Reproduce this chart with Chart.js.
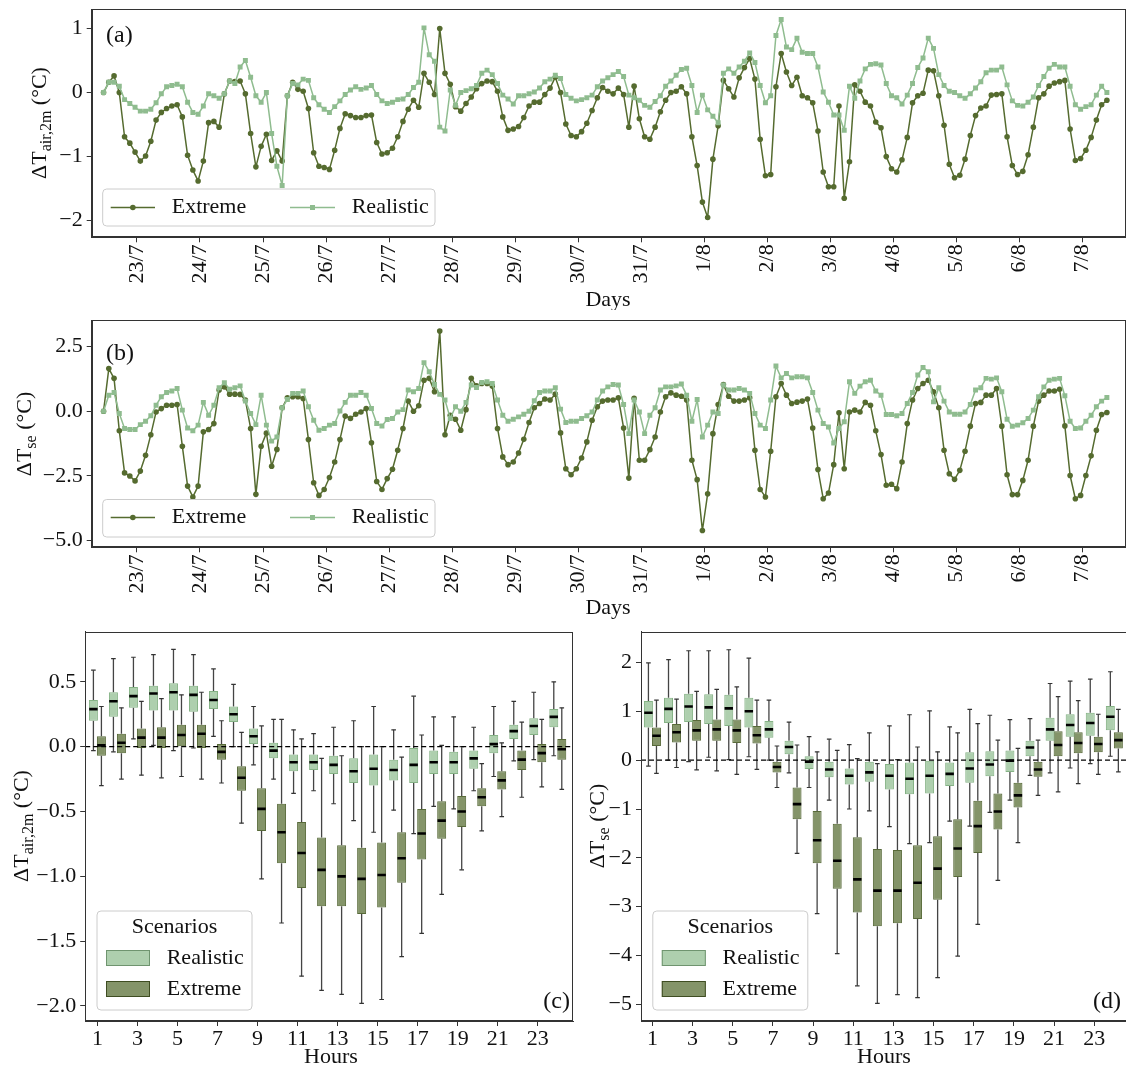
<!DOCTYPE html>
<html lang="en">
<head>
<meta charset="UTF-8">
<title>Temperature differences</title>
<script src="https://cdn.jsdelivr.net/npm/chart.js@4.4.1/dist/chart.umd.min.js"></script>
<style>
  body { margin: 0; background: #fff; width: 1126px; height: 1070px; overflow: hidden; position: relative; }
  canvas { position: absolute; }
</style>
</head>
<body>
<canvas id="pa" width="1130" height="310" style="left:0;top:0"></canvas>
<canvas id="pb" width="1130" height="310" style="left:0;top:310px"></canvas>
<canvas id="pc" width="580" height="450" style="left:0;top:620px"></canvas>
<canvas id="pd" width="560" height="450" style="left:580px;top:620px"></canvas>
<script>
// ---- time axis (days since 22/7 00:00), one sample every 2 hours ----
const START_DAY = 0.47;
const STEP_DAY = 1 / 12;
const dayTicks = [1, 2, 3, 4, 5, 6, 7, 8, 9, 10, 11, 12, 13, 14, 15, 16];
const dayLabels = ['23/7', '24/7', '25/7', '26/7', '27/7', '28/7', '29/7', '30/7', '31/7',
                   '1/8', '2/8', '3/8', '4/8', '5/8', '6/8', '7/8'];

// (a) air temperature difference at 2 m
const airExtreme = [
  0.0, 0.16, 0.26, 0.0, -0.69, -0.79, -0.93, -1.07, -0.99, -0.76, -0.43, -0.31,
  -0.25, -0.21, -0.19, -0.38, -0.98, -1.21, -1.38, -1.07, -0.47, -0.45, -0.54, -0.02,
  0.18, 0.17, 0.18, -0.02, -0.64, -1.16, -0.84, -0.65, -1.06, -0.91, -1.07, -0.05,
  0.16, 0.05, 0.02, -0.25, -0.94, -1.15, -1.17, -1.20, -0.90, -0.56, -0.33, -0.36,
  -0.39, -0.39, -0.36, -0.35, -0.78, -0.96, -0.94, -0.87, -0.69, -0.45, -0.26, -0.12,
  -0.23, 0.30, 0.16, -0.03, 1.0, 0.30, 0.13, -0.22, -0.29, -0.17, -0.07, 0.06,
  0.14, 0.18, 0.17, 0.02, -0.38, -0.59, -0.57, -0.53, -0.39, -0.21, -0.15, -0.15,
  -0.03, 0.07, 0.24, 0.0, -0.49, -0.67, -0.69, -0.61, -0.48, -0.28, -0.08, 0.08,
  0.02, -0.02, 0.07, -0.03, -0.54, 0.10, -0.41, -0.69, -0.73, -0.54, -0.30, -0.12,
  0.0, 0.02, 0.09, -0.02, -0.69, -1.14, -1.71, -1.95, -1.04, -0.52, 0.19, 0.06,
  -0.07, 0.23, 0.39, 0.53, 0.21, -0.73, -1.30, -1.28, 0.09, 0.61, 0.32, 0.11,
  0.24, -0.05, -0.08, -0.16, -0.60, -1.24, -1.47, -1.47, -0.21, -1.65, -1.08, 0.12,
  0.02, -0.15, -0.21, -0.46, -0.55, -1.00, -1.19, -1.24, -1.05, -0.70, -0.16, -0.05,
  -0.01, 0.35, 0.34, -0.05, -0.51, -1.12, -1.33, -1.29, -1.04, -0.67, -0.36, -0.24,
  -0.21, -0.04, -0.03, -0.02, -0.69, -1.14, -1.28, -1.23, -0.97, -0.54, -0.08, -0.02,
  0.10, 0.15, 0.17, 0.19, -0.57, -1.06, -1.03, -0.90, -0.70, -0.43, -0.19, -0.12
];
const airRealistic = [
  0.0, 0.16, 0.16, 0.10, -0.11, -0.17, -0.23, -0.29, -0.29, -0.26, -0.16, -0.02,
  0.09, 0.11, 0.13, 0.09, -0.15, -0.31, -0.34, -0.21, -0.02, -0.05, -0.09, -0.02,
  0.18, 0.14, 0.40, 0.50, 0.24, -0.05, -0.15, 0.0, -0.64, -1.15, -1.45, -0.05,
  0.14, 0.12, 0.21, 0.19, -0.08, -0.19, -0.26, -0.31, -0.22, -0.13, -0.03, 0.04,
  0.09, 0.05, 0.07, 0.11, -0.03, -0.13, -0.17, -0.15, -0.11, -0.10, -0.03, 0.08,
  0.16, 1.01, 0.59, 0.49, -0.54, -0.60, 0.04, -0.20, 0.0, 0.03, 0.06, 0.11,
  0.30, 0.35, 0.28, 0.14, -0.04, -0.10, -0.18, -0.05, -0.05, -0.02, 0.01, 0.07,
  0.17, 0.21, 0.27, 0.22, -0.03, -0.09, -0.13, -0.11, -0.08, -0.04, 0.09, 0.18,
  0.23, 0.28, 0.33, 0.25, -0.04, -0.08, -0.12, -0.20, -0.23, -0.14, -0.05, 0.10,
  0.18, 0.27, 0.36, 0.38, 0.11, -0.31, -0.04, -0.27, -0.37, -0.47, 0.30, 0.37,
  0.30, 0.40, 0.49, 0.62, 0.47, 0.11, -0.16, -0.05, 0.89, 1.14, 0.71, 0.67,
  0.85, 0.63, 0.61, 0.61, 0.40, 0.01, -0.15, -0.35, -0.35, -0.59, 0.10, -0.09,
  0.18, 0.37, 0.44, 0.45, 0.43, 0.14, -0.05, -0.08, -0.18, -0.04, 0.14, 0.39,
  0.54, 0.85, 0.69, 0.28, 0.11, 0.02, 0.0, -0.05, -0.09, -0.02, 0.07, 0.17,
  0.31, 0.35, 0.35, 0.40, 0.12, -0.13, -0.20, -0.21, -0.15, -0.07, 0.11, 0.25,
  0.38, 0.44, 0.40, 0.40, 0.10, -0.19, -0.26, -0.22, -0.19, -0.04, 0.10, 0.0
];

// (b) surface temperature difference
const surfExtreme = [
  0.0, 1.65, 1.27, -0.76, -2.39, -2.51, -2.70, -2.32, -1.71, -0.91, -0.03, 0.10,
  0.23, 0.23, 0.26, -1.36, -2.90, -3.32, -2.90, -0.80, -0.71, -0.48, 0.82, 0.94,
  0.66, 0.66, 0.65, 0.43, -0.67, -3.22, -1.36, -0.85, -2.13, -1.48, 0.13, 0.52,
  0.56, 0.56, 0.49, -1.10, -2.77, -3.26, -3.03, -2.57, -1.97, -1.10, -0.19, -0.28,
  -0.12, -0.03, 0.10, -1.22, -2.72, -3.03, -2.61, -2.25, -1.51, -0.67, 0.39, 0.0,
  0.21, 1.20, 1.27, 0.75, 3.10, -0.91, -0.16, -0.31, -0.74, 0.06, 1.27, 0.98,
  1.07, 1.07, 0.97, -0.67, -1.77, -2.07, -1.97, -1.62, -1.09, -0.44, 0.13, 0.30,
  0.47, 0.43, 0.66, -0.84, -2.23, -2.46, -2.23, -1.81, -1.19, -0.35, 0.17, 0.39,
  0.43, 0.43, 0.52, -0.65, -2.59, 0.50, -1.90, -1.90, -1.49, -1.00, -0.03, 0.56,
  0.71, 0.62, 0.58, 0.43, -1.90, -2.65, -4.62, -3.20, -0.87, 0.26, 1.03, 0.58,
  0.39, 0.39, 0.43, 0.52, -1.51, -3.03, -3.32, -1.55, 0.56, 1.07, 0.62, 0.30,
  0.35, 0.39, 0.47, -0.65, -2.26, -3.39, -3.17, -2.07, -0.06, -2.23, -0.03, 0.04,
  -0.03, 0.34, 0.23, -0.76, -1.68, -2.87, -2.83, -3.00, -1.97, -0.48, 0.43, 0.88,
  1.07, 1.20, 0.75, 0.13, -1.51, -2.42, -2.64, -2.29, -1.55, -0.58, 0.30, 0.34,
  0.62, 0.62, 0.88, -0.58, -2.46, -3.23, -3.23, -2.68, -1.90, -0.58, 0.39, 0.62,
  0.78, 0.78, 0.85, -0.57, -2.49, -3.39, -3.26, -2.49, -1.73, -0.74, -0.13, -0.05
];
const surfRealistic = [
  0.0, 0.62, 0.72, -0.09, -0.67, -0.71, -0.71, -0.52, -0.39, -0.18, 0.23, 0.56,
  0.72, 0.78, 0.88, 0.04, -0.65, -0.76, -0.54, 0.34, -0.16, 0.23, 0.91, 1.10,
  0.85, 0.91, 0.98, 0.39, -0.09, -0.52, 0.62, -0.54, -1.16, -1.00, 0.13, 0.45,
  0.69, 0.69, 0.78, 0.17, -0.35, -0.74, -0.67, -0.54, -0.48, 0.01, 0.34, 0.62,
  0.62, 0.72, 0.62, 0.10, -0.48, -0.57, -0.32, -0.28, -0.03, 0.06, 0.82, 0.75,
  0.88, 1.88, 1.53, 1.03, 0.65, 0.43, -0.28, 0.17, 0.0, 0.34, 1.01, 0.92,
  1.11, 1.14, 1.07, 0.43, -0.16, -0.39, -0.31, -0.22, -0.12, 0.0, 0.40, 0.72,
  0.78, 0.78, 0.91, 0.08, -0.44, -0.39, -0.39, -0.28, -0.18, -0.03, 0.43, 0.78,
  0.94, 1.03, 1.01, 0.26, -0.87, 0.43, -0.03, -0.87, -0.16, 0.13, 0.82, 0.94,
  0.94, 0.98, 1.05, 0.62, -0.39, 0.45, -1.00, -0.54, -0.03, -0.09, 1.01, 0.82,
  0.82, 0.88, 0.82, 0.69, -0.09, -0.54, -0.67, 0.43, 1.75, 1.29, 1.46, 1.29,
  1.33, 1.33, 1.29, 0.72, 0.04, -0.48, -0.61, -1.23, -0.67, -0.41, 1.14, 0.69,
  0.97, 1.14, 1.20, 0.78, 0.62, -0.13, -0.13, -0.18, -0.09, 0.30, 0.72, 1.40,
  1.69, 1.53, 0.36, 0.91, 0.39, -0.03, -0.12, -0.12, -0.03, 0.26, 0.82, 0.91,
  1.27, 1.24, 1.29, 0.75, -0.31, -0.58, -0.54, -0.45, -0.28, 0.04, 0.56, 0.94,
  1.20, 1.24, 1.27, 0.60, -0.39, -0.67, -0.65, -0.39, -0.16, 0.17, 0.39, 0.53
];

// ---- hourly box plots ----
const hours = [1, 2, 3, 4, 5, 6, 7, 8, 9, 10, 11, 12, 13, 14, 15, 16, 17, 18, 19, 20, 21, 22, 23, 24];
const hourTicks = [1, 3, 5, 7, 9, 11, 13, 15, 17, 19, 21, 23];
const hourLabels = ['1', '3', '5', '7', '9', '11', '13', '15', '17', '19', '21', '23'];

// (c) air, Realistic
const airRealLow  = [-0.03, -0.04, 0.06, 0.01, -0.03, -0.01, 0.08, 0.0, -0.14, -0.25, -0.36, -0.34, -0.44, -0.57, -0.66, -0.49, -0.67, -0.46, -0.48, -0.34, -0.23, -0.11, -0.10, -0.07];
const airRealQ1   = [0.20, 0.23, 0.30, 0.28, 0.28, 0.27, 0.29, 0.19, 0.02, -0.09, -0.19, -0.18, -0.21, -0.28, -0.30, -0.26, -0.28, -0.21, -0.21, -0.17, -0.05, 0.06, 0.09, 0.15];
const airRealMed  = [0.29, 0.35, 0.39, 0.41, 0.42, 0.40, 0.36, 0.25, 0.08, -0.03, -0.12, -0.12, -0.14, -0.19, -0.17, -0.18, -0.14, -0.12, -0.12, -0.09, 0.02, 0.12, 0.16, 0.23];
const airRealQ3   = [0.36, 0.42, 0.46, 0.47, 0.49, 0.47, 0.43, 0.31, 0.14, 0.03, -0.06, -0.06, -0.07, -0.09, -0.06, -0.10, -0.01, -0.03, -0.04, -0.03, 0.09, 0.17, 0.22, 0.29];
const airRealHigh = [0.59, 0.68, 0.69, 0.71, 0.75, 0.71, 0.60, 0.48, 0.31, 0.21, 0.13, 0.10, 0.15, 0.20, 0.31, 0.13, 0.39, 0.23, 0.23, 0.15, 0.31, 0.35, 0.42, 0.50];
// (c) air, Extreme
const airExtLow  = [-0.30, -0.25, -0.22, -0.24, -0.23, -0.25, -0.28, -0.59, -1.02, -1.36, -1.77, -1.88, -1.91, -1.98, -1.95, -1.62, -1.44, -1.14, -0.95, -0.65, -0.54, -0.39, -0.31, -0.33];
const airExtQ1   = [-0.07, -0.05, -0.01, -0.01, 0.0, -0.01, -0.10, -0.34, -0.65, -0.90, -1.09, -1.23, -1.23, -1.29, -1.24, -1.05, -0.87, -0.71, -0.62, -0.46, -0.33, -0.18, -0.12, -0.10];
const airExtMed  = [0.01, 0.03, 0.07, 0.07, 0.09, 0.10, -0.04, -0.24, -0.48, -0.66, -0.82, -0.95, -1.00, -1.02, -0.99, -0.86, -0.67, -0.57, -0.50, -0.39, -0.26, -0.10, -0.05, -0.02];
const airExtQ3   = [0.08, 0.10, 0.14, 0.15, 0.17, 0.17, 0.02, -0.15, -0.32, -0.44, -0.58, -0.70, -0.76, -0.78, -0.74, -0.66, -0.48, -0.42, -0.38, -0.32, -0.19, -0.03, 0.02, 0.06];
const airExtHigh = [0.31, 0.30, 0.35, 0.37, 0.40, 0.42, 0.20, 0.11, 0.16, 0.21, 0.06, -0.09, -0.07, 0.0, 0.0, -0.08, 0.09, 0.01, 0.0, -0.13, 0.03, 0.19, 0.21, 0.30];
// (d) surface, Realistic
const surfRealLow  = [-0.12, 0.0, -0.03, 0.06, 0.01, 0.07, 0.0, -0.26, -0.56, -0.82, -1.00, -1.04, -1.36, -1.71, -1.69, -1.25, -1.35, -1.07, -0.82, -0.31, -0.26, -0.16, -0.07, 0.08];
const surfRealQ1   = [0.67, 0.76, 0.78, 0.74, 0.70, 0.67, 0.46, 0.12, -0.18, -0.35, -0.50, -0.44, -0.60, -0.70, -0.68, -0.53, -0.46, -0.33, -0.24, 0.08, 0.40, 0.48, 0.50, 0.61];
const surfRealMed  = [0.97, 1.05, 1.10, 1.08, 1.06, 1.00, 0.63, 0.27, -0.03, -0.19, -0.32, -0.25, -0.32, -0.38, -0.32, -0.28, -0.17, -0.09, -0.01, 0.26, 0.63, 0.72, 0.76, 0.89];
const surfRealQ3   = [1.21, 1.28, 1.36, 1.35, 1.34, 1.28, 0.80, 0.40, 0.08, -0.03, -0.17, -0.03, -0.08, -0.05, 0.0, -0.05, 0.16, 0.18, 0.20, 0.40, 0.87, 0.94, 0.97, 1.11];
const surfRealHigh = [1.99, 2.06, 2.24, 2.24, 2.26, 2.09, 1.23, 0.78, 0.48, 0.43, 0.32, 0.56, 0.70, 0.93, 1.01, 0.68, 1.04, 0.92, 0.83, 0.85, 1.57, 1.62, 1.66, 1.81];
// (d) surface, Extreme
const surfExtLow  = [-0.27, -0.15, -0.20, -0.22, -0.29, -0.19, -0.56, -1.91, -3.14, -3.96, -4.62, -4.98, -4.80, -4.86, -4.45, -4.01, -3.36, -2.46, -1.69, -0.72, -0.65, -0.48, -0.29, -0.24];
const surfExtQ1   = [0.29, 0.36, 0.40, 0.40, 0.35, 0.34, -0.25, -1.21, -2.11, -2.63, -3.12, -3.40, -3.34, -3.25, -2.86, -2.39, -1.90, -1.42, -0.97, -0.34, 0.08, 0.14, 0.16, 0.24];
const surfExtMed  = [0.50, 0.57, 0.61, 0.63, 0.61, 0.51, -0.14, -0.90, -1.64, -2.06, -2.44, -2.67, -2.67, -2.51, -2.22, -1.81, -1.35, -1.05, -0.72, -0.19, 0.31, 0.35, 0.33, 0.41];
const surfExtQ3   = [0.67, 0.74, 0.82, 0.83, 0.83, 0.70, -0.03, -0.56, -1.04, -1.30, -1.58, -1.82, -1.84, -1.74, -1.56, -1.21, -0.83, -0.68, -0.46, -0.03, 0.59, 0.57, 0.48, 0.57];
const surfExtHigh = [1.23, 1.25, 1.41, 1.45, 1.50, 1.23, 0.29, 0.31, 0.17, 0.20, 0.03, -0.07, 0.01, 0.27, 0.17, 0.56, 0.75, 0.41, 0.24, 0.41, 1.30, 1.22, 0.94, 1.04];

// ---- styling ----
const SERIF = '"Liberation Serif", "Times New Roman", serif';
const INK = '#111111';
const AXIS = '#333333';
const OLIVE = '#556b2f';
const SEA = '#8fbc8f';
const REAL_FILL = 'rgba(143,188,143,0.72)';
const REAL_EDGE = 'rgba(120,170,120,0.9)';
const EXT_FILL = 'rgba(85,107,47,0.72)';
const EXT_EDGE = 'rgba(70,90,35,0.9)';
const BOX_SHIFT = 0.2;

Chart.defaults.font.family = SERIF;
Chart.defaults.color = INK;

// page-coordinate decorations for each panel
const DECO = {
  pa: { ox: 0, oy: 0,
        tag: { t: '(a)', x: 106, y: 36, align: 'left' },
        xTitle: { t: 'Days', x: 608, y: 300 },
        yTitle: { parts: [{ t: 'ΔT' }, { t: 'air,2m', sub: true }, { t: ' (°C)' }], x: 39, y: 123 },
        lineLegend: { x: 102.7, y: 189, w: 332.3, h: 37, cy: 207.5,
          items: [{ name: 'Extreme', color: OLIVE, marker: 'circle', x0: 110.7, x1: 155, tx: 171.7 },
                  { name: 'Realistic', color: SEA, marker: 'rect', x0: 290, x1: 335, tx: 351.7 }] } },
  pb: { ox: 0, oy: 310,
        tag: { t: '(b)', x: 106, y: 354, align: 'left' },
        xTitle: { t: 'Days', x: 608, y: 608 },
        yTitle: { parts: [{ t: 'ΔT' }, { t: 'se', sub: true }, { t: ' (°C)' }], x: 24, y: 434 },
        lineLegend: { x: 102.7, y: 499.5, w: 332.3, h: 37.5, cy: 517.5,
          items: [{ name: 'Extreme', color: OLIVE, marker: 'circle', x0: 110.7, x1: 155, tx: 171.7 },
                  { name: 'Realistic', color: SEA, marker: 'rect', x0: 290, x1: 335, tx: 351.7 }] } },
  pc: { ox: 0, oy: 620,
        tag: { t: '(c)', x: 570, y: 1002, align: 'right' },
        xTitle: { t: 'Hours', x: 331, y: 1057 },
        yTitle: { parts: [{ t: 'ΔT' }, { t: 'air,2m', sub: true }, { t: ' (°C)' }], x: 21, y: 826 },
        boxLegend: { x: 97, y: 911, w: 155, h: 99, tx: 166.7, px: 106, pw: 44, ph: 16, titleY: 927.5,
          items: [{ name: 'Realistic', fill: REAL_FILL, edge: '#6f946f', py: 950, ty: 958 },
                  { name: 'Extreme', fill: EXT_FILL, edge: '#3f4d22', py: 981, ty: 989.5 }] } },
  pd: { ox: 580, oy: 620,
        tag: { t: '(d)', x: 1121, y: 1002, align: 'right' },
        xTitle: { t: 'Hours', x: 884, y: 1057 },
        yTitle: { parts: [{ t: 'ΔT' }, { t: 'se', sub: true }, { t: ' (°C)' }], x: 597, y: 826 },
        boxLegend: { x: 652.8, y: 911, w: 155, h: 99, tx: 722.5, px: 661.8, pw: 44, ph: 16, titleY: 927.5,
          items: [{ name: 'Realistic', fill: REAL_FILL, edge: '#6f946f', py: 950, ty: 958 },
                  { name: 'Extreme', fill: EXT_FILL, edge: '#3f4d22', py: 981, ty: 989.5 }] } }
};

function text(ctx, s, x, y, size, align) {
  ctx.font = size + 'px ' + SERIF;
  ctx.fillStyle = INK;
  ctx.textAlign = align || 'left';
  ctx.textBaseline = 'middle';
  ctx.fillText(s, x, y);
}

function legendBox(ctx, x, y, w, h) {
  const r = 4;
  ctx.beginPath();
  ctx.moveTo(x + r, y);
  ctx.arcTo(x + w, y, x + w, y + h, r);
  ctx.arcTo(x + w, y + h, x, y + h, r);
  ctx.arcTo(x, y + h, x, y, r);
  ctx.arcTo(x, y, x + w, y, r);
  ctx.closePath();
  ctx.fillStyle = 'rgba(255,255,255,0.8)';
  ctx.fill();
  ctx.strokeStyle = '#cccccc';
  ctx.lineWidth = 1;
  ctx.stroke();
}

function rotatedTitle(ctx, spec) {
  const size = 22, sub = 16;
  ctx.save();
  ctx.translate(spec.x, spec.y);
  ctx.rotate(-Math.PI / 2);
  let total = 0;
  const widths = spec.parts.map(p => {
    ctx.font = (p.sub ? sub : size) + 'px ' + SERIF;
    const w = ctx.measureText(p.t).width;
    total += w;
    return w;
  });
  let x = -total / 2;
  ctx.fillStyle = INK;
  ctx.textAlign = 'left';
  ctx.textBaseline = 'alphabetic';
  spec.parts.forEach((p, i) => {
    ctx.font = (p.sub ? sub : size) + 'px ' + SERIF;
    ctx.fillText(p.t, x, size * 0.33 + (p.sub ? 5 : 0));
    x += widths[i];
  });
  ctx.restore();
}

const decoPlugin = {
  id: 'deco',
  afterDatasetsDraw(chart) {
    const d = DECO[chart.canvas.id];
    const ctx = chart.ctx;
    const a = chart.chartArea;
    ctx.save();
    // axes frame
    ctx.strokeStyle = AXIS;
    ctx.lineWidth = 1;
    ctx.strokeRect(Math.round(a.left) + 0.5, Math.round(a.top) + 0.5,
                   Math.round(a.right - a.left) - 1, Math.round(a.bottom - a.top) - 1);
    ctx.translate(-d.ox, -d.oy);
    text(ctx, d.tag.t, d.tag.x, d.tag.y, 24, d.tag.align);
    text(ctx, d.xTitle.t, d.xTitle.x, d.xTitle.y, 22, 'center');
    rotatedTitle(ctx, d.yTitle);
    if (d.lineLegend) {
      const L = d.lineLegend;
      legendBox(ctx, L.x, L.y, L.w, L.h);
      L.items.forEach(it => {
        ctx.strokeStyle = it.color;
        ctx.lineWidth = 1.5;
        ctx.beginPath();
        ctx.moveTo(it.x0, L.cy);
        ctx.lineTo(it.x1, L.cy);
        ctx.stroke();
        ctx.fillStyle = it.color;
        const mx = (it.x0 + it.x1) / 2;
        if (it.marker === 'circle') {
          ctx.beginPath();
          ctx.arc(mx, L.cy, 2.8, 0, Math.PI * 2);
          ctx.fill();
        } else {
          ctx.fillRect(mx - 2.5, L.cy - 2.5, 5, 5);
        }
        text(ctx, it.name, it.tx, L.cy, 22, 'left');
      });
    }
    if (d.boxLegend) {
      const L = d.boxLegend;
      legendBox(ctx, L.x, L.y, L.w, L.h);
      text(ctx, 'Scenarios', L.x + L.w / 2, L.titleY, 22, 'center');
      L.items.forEach(it => {
        ctx.fillStyle = it.fill;
        ctx.fillRect(L.px, it.py, L.pw, L.ph);
        ctx.strokeStyle = it.edge;
        ctx.lineWidth = 1;
        ctx.strokeRect(L.px + 0.5, it.py + 0.5, L.pw - 1, L.ph - 1);
        text(ctx, it.name, L.tx, it.ty, 22, 'left');
      });
    }
    ctx.restore();
  }
};

function fixedTicks(values) {
  return s => { s.ticks = values.map(v => ({ value: v })); };
}

// keep the plot frame where it is in the reference: no label overhang padding
function fixSize(prop, size) {
  return s => {
    s[prop] = size;
    s.paddingTop = 0; s.paddingBottom = 0; s.paddingLeft = 0; s.paddingRight = 0;
  };
}

function yAxis(min, max, ticks, labels, width) {
  return {
    type: 'linear', min: min, max: max,
    afterBuildTicks: fixedTicks(ticks),
    afterFit: fixSize('width', width),
    ticks: { padding: 4, color: INK, font: { family: SERIF, size: 22 },
             callback: (v, i) => labels[i] },
    grid: { drawOnChartArea: false, drawTicks: true, tickLength: 5, color: AXIS },
    border: { color: AXIS, width: 1 }
  };
}

function series(vals) {
  return vals.map((v, i) => ({ x: START_DAY + i * STEP_DAY, y: v }));
}

function timeChart(id, ext, real, yMin, yMax, yTicks, yLabels, padTop) {
  return new Chart(document.getElementById(id), {
    type: 'line',
    data: {
      datasets: [
        { label: 'Extreme', data: series(ext), borderColor: OLIVE, backgroundColor: OLIVE,
          borderWidth: 1.5, borderJoinStyle: 'round', pointStyle: 'circle', pointRadius: 2.8,
          pointBorderWidth: 0, pointBackgroundColor: OLIVE, order: 1 },
        { label: 'Realistic', data: series(real), borderColor: SEA, backgroundColor: SEA,
          borderWidth: 1.5, borderJoinStyle: 'round', pointStyle: 'rect', pointRadius: 3.5,
          pointBorderWidth: 0, pointBackgroundColor: SEA, order: 0 }
      ]
    },
    options: {
      responsive: false, animation: false, devicePixelRatio: 1, events: [],
      layout: { padding: { top: padTop, right: 3, left: 0, bottom: 0 } },
      plugins: { legend: { display: false }, tooltip: { enabled: false } },
      scales: {
        x: {
          type: 'linear', min: 0.282, max: 16.69,
          afterBuildTicks: fixedTicks(dayTicks),
          afterFit: fixSize('height', 72.7),
          ticks: { minRotation: 90, maxRotation: 90, autoSkip: false, padding: 2, color: INK,
                   font: { family: SERIF, size: 22 }, callback: (v, i) => dayLabels[i] },
          grid: { drawOnChartArea: false, drawTicks: true, tickLength: 5, color: AXIS },
          border: { color: AXIS, width: 1 }
        },
        y: yAxis(yMin, yMax, yTicks, yLabels, 91.7)
      }
    },
    plugins: [decoPlugin]
  });
}

// each scenario sits on its own (same-range) x axis so bar widths are sized per scenario
function boxDatasets(axis, shift, low, q1, med, q3, high, fill, edge) {
  const at = vals => hours.map((h, i) => ({ x: h + shift, y: vals[i] }));
  const span = (a, b) => hours.map((h, i) => ({ x: h + shift, y: [a[i], b[i]] }));
  return [
    { type: 'bar', xAxisID: axis, data: span(low, q1), backgroundColor: '#444444', borderWidth: 0,
      grouped: false, maxBarThickness: 1.3, order: 4 },
    { type: 'bar', xAxisID: axis, data: span(q3, high), backgroundColor: '#444444', borderWidth: 0,
      grouped: false, maxBarThickness: 1.3, order: 4 },
    { type: 'bar', xAxisID: axis, data: span(q1, q3), backgroundColor: fill, borderColor: edge,
      borderWidth: 1, borderSkipped: false, grouped: false, maxBarThickness: 9, order: 3 },
    { type: 'line', xAxisID: axis, data: at(low).concat(at(high)), showLine: false, pointStyle: 'line',
      pointRadius: 2.3, pointBorderWidth: 1.2, pointBorderColor: '#333333', order: 2 },
    { type: 'line', xAxisID: axis, data: at(med), showLine: false, pointStyle: 'line',
      pointRadius: 4.2, pointBorderWidth: 2.6, pointBorderColor: '#000000', order: 1 }
  ];
}

function boxChart(id, real, ext, xMin, xMax, yMin, yMax, yTicks, yLabels, yWidth, padRight) {
  const datasets = boxDatasets('x', -BOX_SHIFT, ...real, REAL_FILL, REAL_EDGE)
    .concat(boxDatasets('x2', BOX_SHIFT, ...ext, EXT_FILL, EXT_EDGE));
  datasets.push({ type: 'line', data: [{ x: xMin, y: 0 }, { x: xMax, y: 0 }], borderColor: '#000000',
                  borderWidth: 1.3, borderDash: [5, 3], pointRadius: 0, order: 0 });
  return new Chart(document.getElementById(id), {
    type: 'bar',
    data: { datasets: datasets },
    options: {
      responsive: false, animation: false, devicePixelRatio: 1, events: [],
      layout: { padding: { top: 11.7, right: padRight, left: 0, bottom: 0 } },
      plugins: { legend: { display: false }, tooltip: { enabled: false } },
      scales: {
        x: {
          type: 'linear', min: xMin, max: xMax, offset: false,
          afterBuildTicks: fixedTicks(hourTicks),
          afterFit: fixSize('height', 49),
          ticks: { autoSkip: false, minRotation: 0, maxRotation: 0, padding: 0, color: INK,
                   font: { family: SERIF, size: 22 }, callback: (v, i) => hourLabels[i] },
          grid: { offset: false, drawOnChartArea: false, drawTicks: true, tickLength: 5, color: AXIS },
          border: { color: AXIS, width: 1 }
        },
        x2: { type: 'linear', position: 'bottom', min: xMin, max: xMax, offset: false, display: false },
        y: yAxis(yMin, yMax, yTicks, yLabels, yWidth)
      }
    },
    plugins: [decoPlugin]
  });
}

timeChart('pa', airExtreme, airRealistic, -2.26, 1.30, [-2, -1, 0, 1], ['−2', '−1', '0', '1'], 9.3);
timeChart('pb', surfExtreme, surfRealistic, -5.27, 3.53, [-5, -2.5, 0, 2.5], ['−5.0', '−2.5', '0.0', '2.5'], 10);

boxChart('pc',
  [airRealLow, airRealQ1, airRealMed, airRealQ3, airRealHigh],
  [airExtLow, airExtQ1, airExtMed, airExtQ3, airExtHigh],
  0.39, 24.77, -2.116, 0.887,
  [-2, -1.5, -1, -0.5, 0, 0.5], ['−2.0', '−1.5', '−1.0', '−0.5', '0.0', '0.5'], 85.2, 3.6);

boxChart('pd',
  [surfRealLow, surfRealQ1, surfRealMed, surfRealQ3, surfRealHigh],
  [surfExtLow, surfExtQ1, surfExtMed, surfExtQ3, surfExtHigh],
  0.43, 24.63, -5.34, 2.63,
  [-5, -4, -3, -2, -1, 0, 1, 2], ['−5', '−4', '−3', '−2', '−1', '0', '1', '2'], 61, 13);
</script>
</body>
</html>
